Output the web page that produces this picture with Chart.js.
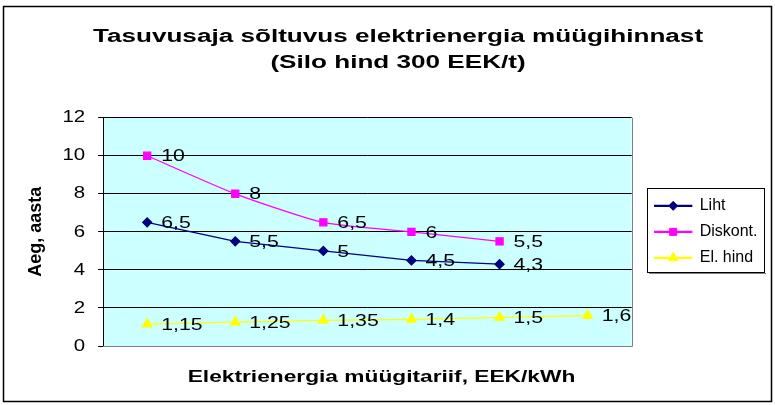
<!DOCTYPE html>
<html>
<head>
<meta charset="utf-8">
<script src="https://cdn.jsdelivr.net/npm/chart.js@4/dist/chart.umd.min.js"></script>
<style>
  body { margin: 0; background: #fff; }
</style>
</head>
<body>
<canvas id="c" width="775" height="405"></canvas>
<script>
// andmed
const categories = ["1,15", "1,25", "1,35", "1,4", "1,5", "1,6"];
const lihtValues = [6.5, 5.5, 5, 4.5, 4.3, null];
const diskontValues = [10, 8, 6.5, 6, 5.5, null];
const elHindValues = [1.15, 1.25, 1.35, 1.4, 1.5, 1.6];
const yTicks = [0, 2, 4, 6, 8, 10, 12];

const FONT = "Arial, 'Liberation Sans', sans-serif";

function fmt(v) {
  return String(v).replace(".", ",");
}

// originaalis on tekst laiemaks venitatud - venitame fillText-i
function stretched(ctx, k, dx, fn) {
  const orig = CanvasRenderingContext2D.prototype.fillText;
  ctx.fillText = function (t, x, y) {
    this.save();
    this.translate(x + dx, y);
    this.scale(k, 1);
    orig.call(this, t, 0, 0);
    this.restore();
  };
  try {
    return fn();
  } finally {
    delete ctx.fillText;
  }
}

function wrapDraw(obj, method, k, dx) {
  if (!obj || obj["__w_" + method]) return;
  const orig = obj[method];
  obj[method] = function (...args) {
    const d = typeof dx === "function" ? dx(this) : dx;
    return stretched(this.ctx, k, d, () => orig.apply(this, args));
  };
  obj["__w_" + method] = true;
}

const stretchPlugin = {
  id: "stretch",
  afterLayout(chart) {
    // legend natuke graafikust eemale
    const lg = chart.legend;
    const dx = chart.chartArea.right + 13 - lg.left;
    lg.left += dx;
    lg.right += dx;

    wrapDraw(chart.titleBlock, "draw", 1.45, b => 398 - (b.left + b.right) / 2);
    wrapDraw(chart.scales.x, "drawTitle", 1.42, s => 381.5 - (s.left + s.right) / 2);
    wrapDraw(chart.scales.y, "drawLabels", 1.2, 0);
  }
};

// taust, raamid ja legendi kast
const decor = {
  id: "decor",
  beforeDraw(chart) {
    const { ctx, chartArea: a } = chart;
    ctx.save();
    ctx.fillStyle = "#ccffff";
    ctx.fillRect(a.left, a.top, a.right - a.left, a.bottom - a.top);
    ctx.restore();
  },
  afterDraw(chart) {
    const { ctx, chartArea: a } = chart;
    ctx.save();
    ctx.strokeStyle = "#808080";
    ctx.lineWidth = 1;
    ctx.beginPath();
    ctx.moveTo(Math.round(a.right) + 0.5, a.top);
    ctx.lineTo(Math.round(a.right) + 0.5, Math.round(a.bottom) + 0.5);
    ctx.lineTo(a.left, Math.round(a.bottom) + 0.5);
    ctx.stroke();

    // legendi kast
    const hb = chart.legend.legendHitBoxes;
    const lo = chart.options.plugins.legend.labels;
    if (hb && hb.length) {
      const l = hb[0].left - 8;
      const t = hb[0].top - 10;
      const r = Math.max(...hb.map(h => h.left + h.width)) + 6;
      const b = hb[hb.length - 1].top + hb[hb.length - 1].height + 6;
      ctx.strokeStyle = "#000";
      ctx.lineWidth = 1;
      ctx.strokeRect(Math.round(l) + 0.5, Math.round(t) + 0.5, Math.round(r - l), Math.round(b - t));
      ctx.fillStyle = "#808080";
      ctx.fillRect(Math.round(l) + 2, Math.round(b) + 1, Math.round(r - l), 1);
      // markerid legendis
      hb.forEach((h, i) => {
        const ds = chart.data.datasets[i];
        ctx.fillStyle = ds.pointBackgroundColor;
        ctx.strokeStyle = ds.pointBorderColor;
        ctx.lineWidth = 1;
        Chart.helpers.drawPoint(ctx, {
          pointStyle: ds.pointStyle,
          radius: ds.pointRadius,
          rotation: 0,
          borderWidth: 1
        }, h.left + lo.boxWidth / 2, h.top + h.height / 2);
      });
    }

    // välimine raam
    ctx.strokeStyle = "#000";
    ctx.lineWidth = 1.5;
    ctx.strokeRect(3.5, 6.5, 768, 395);
    ctx.restore();
  }
};

// väärtuste sildid punktide kõrval
const valueLabels = {
  id: "valueLabels",
  afterDatasetsDraw(chart) {
    const ctx = chart.ctx;
    ctx.save();
    ctx.font = "17px " + FONT;
    ctx.fillStyle = "#000";
    ctx.textAlign = "left";
    ctx.textBaseline = "middle";
    stretched(ctx, 1.25, 0, () => {
      chart.data.datasets.forEach((ds, i) => {
        const meta = chart.getDatasetMeta(i);
        meta.data.forEach((pt, j) => {
          const v = ds.data[j];
          if (v == null) return;
          ctx.fillText(fmt(v), pt.x + 14, pt.y + 1);
        });
      });
    });
    ctx.restore();
  }
};

new Chart(document.getElementById("c"), {
  type: "line",
  data: {
    labels: categories,
    datasets: [
      {
        label: "Liht",
        data: lihtValues,
        borderColor: "#000080",
        backgroundColor: "#000080",
        pointBackgroundColor: "#000080",
        pointBorderColor: "#000080",
        pointStyle: "rectRot",
        pointRadius: 4.5,
        borderWidth: 1.3,
        tension: 0
      },
      {
        label: "Diskont.",
        data: diskontValues,
        borderColor: "#ff00ff",
        backgroundColor: "#ff00ff",
        pointBackgroundColor: "#ff00ff",
        pointBorderColor: "#ff00ff",
        pointStyle: "rect",
        pointRadius: 5,
        borderWidth: 1.3,
        tension: 0.2
      },
      {
        label: "El. hind",
        data: elHindValues,
        borderColor: "#ffff00",
        backgroundColor: "#ffff00",
        pointBackgroundColor: "#ffff00",
        pointBorderColor: "#ffff00",
        pointStyle: "triangle",
        pointRadius: 5.5,
        borderWidth: 1.3,
        tension: 0
      }
    ]
  },
  options: {
    responsive: false,
    animation: false,
    devicePixelRatio: 1,
    layout: { padding: { left: 21, right: 20.5, top: 0, bottom: 13.8 } },
    scales: {
      x: {
        offset: true,
        grid: { display: false, drawTicks: false },
        border: { display: false },
        ticks: { display: false },
        title: {
          display: true,
          text: "Elektrienergia müügitariif, EEK/kWh",
          color: "#000",
          font: { family: FONT, size: 16, weight: "bold" },
          padding: { top: 22, bottom: 4 }
        }
      },
      y: {
        min: 0,
        max: 12,
        afterBuildTicks(scale) {
          scale.ticks = yTicks.map(v => ({ value: v }));
        },
        grid: {
          color: ctx => (ctx.tick && ctx.tick.value === 0 ? "#808080" : "#000"),
          tickColor: "#000",
          tickLength: 5,
          lineWidth: 1
        },
        border: { display: true, color: "#000" },
        ticks: {
          color: "#000",
          padding: 13,
          font: { family: FONT, size: 17 }
        },
        title: {
          display: true,
          text: "Aeg, aasta",
          color: "#000",
          font: { family: FONT, size: 18, weight: "bold" },
          padding: { top: 4, bottom: 6.6 }
        }
      }
    },
    plugins: {
      title: {
        display: true,
        text: ["Tasuvusaja sõltuvus elektrienergia müügihinnast", "(Silo hind 300 EEK/t)"],
        color: "#000",
        font: { family: FONT, size: 18, weight: "bold", lineHeight: 1.45 },
        padding: { top: 23.5, bottom: 42 }
      },
      legend: {
        position: "right",
        align: "center",
        fullSize: false,
        labels: {
          color: "#000",
          font: { family: FONT, size: 16 },
          boxWidth: 37,
          boxHeight: 1,
          padding: 10
        }
      },
      tooltip: { enabled: false }
    }
  },
  plugins: [stretchPlugin, decor, valueLabels]
});
</script>
</body>
</html>
